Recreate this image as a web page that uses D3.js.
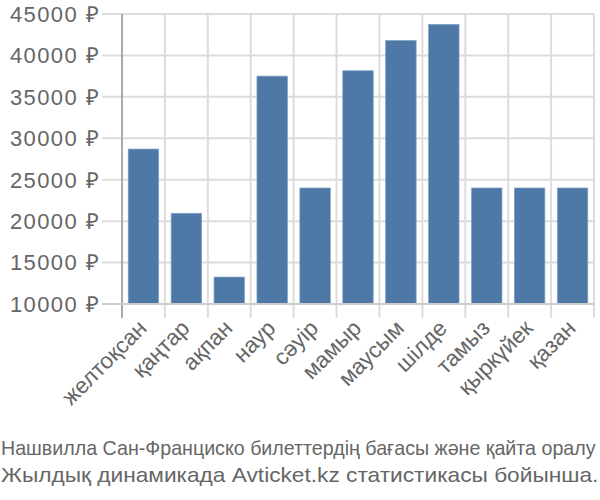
<!DOCTYPE html>
<html><head><meta charset="utf-8">
<script src="https://cdn.jsdelivr.net/npm/d3@7"></script>
<style>body{margin:0;background:#fff}</style>
</head><body>
<svg id="c" width="600" height="500"></svg>
<script>
const categories = ["желтоқсан","қаңтар","ақпан","наур","сәуір","мамыр","маусым","шілде","тамыз","қыркүйек","қазан"];
const values = [28700, 20950, 13250, 37500, 24000, 38150, 41800, 43750, 24000, 24000, 24000];
const yTicks = [10000,15000,20000,25000,30000,35000,40000,45000];
const titleLines = ["Нашвилла Сан-Франциско билеттердің бағасы және қайта оралу","Жылдық динамикада Avticket.kz статистикасы бойынша."];

const svg = d3.select("#c");
const L=122, R=594, T=14, B=304;
const x = d3.scaleBand().domain(categories).range([L,R]).padding(0);
const y = d3.scaleLinear().domain([10000,45000]).range([B,T]);

const g = svg.append("g");
g.selectAll(".hg").data(yTicks).join("line")
 .attr("x1",102).attr("x2",R).attr("y1",d=>y(d)).attr("y2",d=>y(d))
 .attr("stroke","#dcdcdc").attr("stroke-width",2);
const edges = categories.map(c=>x(c)).concat([R]);
g.selectAll(".vg").data(edges.slice(1)).join("line")
 .attr("x1",d=>d).attr("x2",d=>d).attr("y1",T).attr("y2",318)
 .attr("stroke","#dcdcdc").attr("stroke-width",2);
const bw = x.bandwidth();
g.selectAll(".bar").data(values).join("rect")
 .attr("x",(d,i)=>x(categories[i])+bw*0.145)
 .attr("width",bw*0.71)
 .attr("y",d=>y(d)).attr("height",d=>B-y(d))
 .attr("fill","#4e79a7").attr("stroke","#7fa0c4").attr("stroke-width",0.7);
g.append("line").attr("x1",L).attr("x2",L).attr("y1",T).attr("y2",318).attr("stroke","#aaa").attr("stroke-width",2);
g.append("line").attr("x1",102).attr("x2",R).attr("y1",B).attr("y2",B).attr("stroke","#ccc").attr("stroke-width",2);
g.selectAll(".yl").data(yTicks).join("text")
 .attr("x",100).attr("y",d=>y(d)).attr("dy","0.36em").attr("text-anchor","end")
 .attr("font-family","Liberation Sans, Arial, sans-serif").attr("font-size",22).attr("letter-spacing",1.4).attr("fill","#666")
 .text(d=>d+" ₽");
g.selectAll(".xl").data(categories).join("text")
 .attr("transform",d=>`translate(${x(d)+bw/2-1},${324}) rotate(-45)`)
 .attr("text-anchor","end").attr("dy","0.35em")
 .attr("font-family","Liberation Sans, Arial, sans-serif").attr("font-size",22.5).attr("fill","#666")
 .text(d=>d);
const tw=[595,598];
svg.selectAll(".tt").data(titleLines).join("text")
 .attr("x",0).attr("y",0)
 .attr("font-family","Liberation Sans, Arial, sans-serif").attr("font-size",20).attr("fill","#666")
 .text(d=>d)
 .each(function(d,i){
   const w=this.getComputedTextLength();
   d3.select(this).attr("transform",`translate(1,${455+i*27}) scale(${tw[i]/w},1)`);
 });
</script>
</body></html>
